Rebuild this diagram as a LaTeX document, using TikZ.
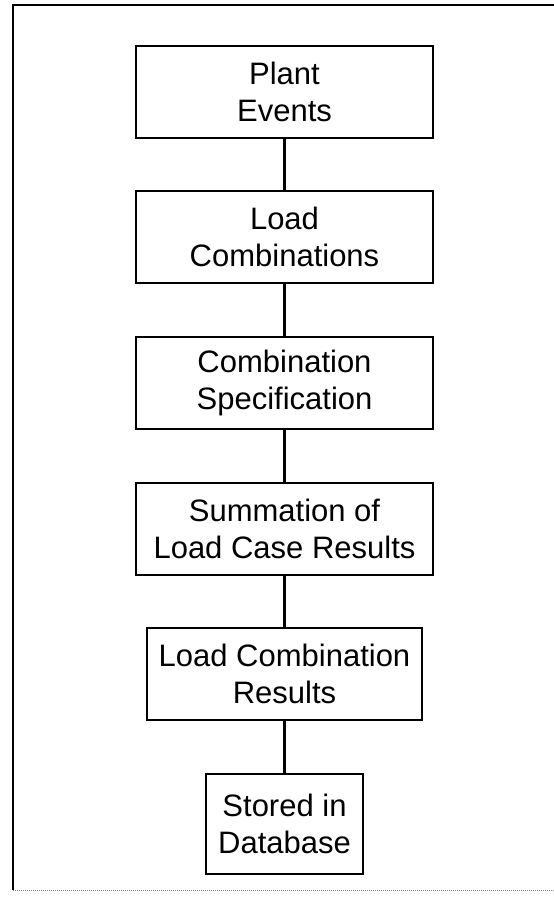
\documentclass[tikz,border=0pt]{standalone}
\usepackage{fontspec}
\setmainfont{Liberation Sans}
\usepackage{tikz}
\usetikzlibrary{positioning}

\tikzset{stage/.style={draw=black, line width=2pt, align=center, inner sep=0pt, minimum height=92pt, minimum width=297pt, font=\fontsize{31}{37}\selectfont}}

\begin{document}
\begin{tikzpicture} [x=1pt, y=-1pt]
						\useasboundingbox (0, 0) rectangle (554, 897);

						\draw [black, line width=2pt] (554, 5)--(13, 5)--(13, 890);
						\draw [gray, line width=1pt, densely dotted] (13, 890)--(554, 890);

						\node [stage] (plant) at (284.5, 92) {Plant\\Events};

						\node [stage] (loadcomb) at (284.5, 237) {Load\\Combinations};

						\node [stage] (spec) at (284.5, 383) {Combination\\Specification};

						\node [stage] (summation) at (284.5, 529) {Summation of\\Load Case Results};

						\node [stage, minimum width=275pt] (results) at (284.5, 674) {Load Combination\\Results};

						\node [stage, minimum width=157pt, minimum height=100pt] (database) at (284.5, 824) {Stored in\\Database};

						\draw [black, line width=2.5pt] (plant)--(loadcomb);
						\draw [black, line width=2.5pt] (loadcomb)--(spec);
						\draw [black, line width=2.5pt] (spec)--(summation);
						\draw [black, line width=2.5pt] (summation)--(results);
						\draw [black, line width=2.5pt] (results)--(database);

					\end{tikzpicture}
\end{document}
